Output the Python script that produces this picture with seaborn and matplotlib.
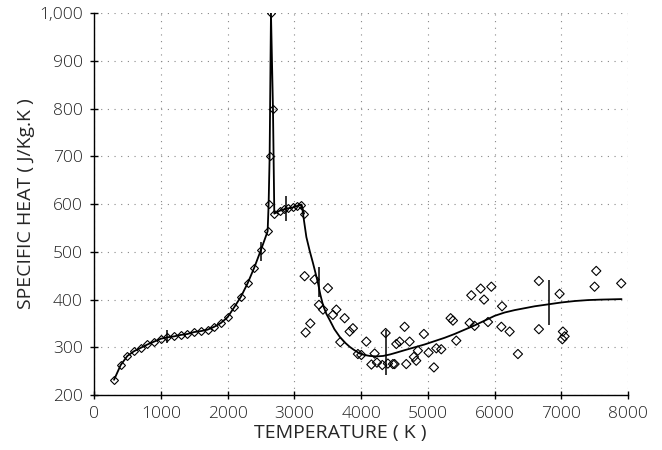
#!/usr/bin/env python3
import numpy as np
import pandas as pd
import seaborn as sns
import matplotlib.pyplot as plt
from matplotlib.ticker import FuncFormatter

# measured points, joined by a line (solid + liquid up to ~3100 K)
temp_meas = [300, 400, 500, 600, 700, 800, 900, 1000, 1100, 1200, 1300, 1400,
             1500, 1600, 1700, 1800, 1900, 2000, 2100, 2200, 2300, 2400, 2500,
             2600, 2615, 2630, 2650, 2680, 2700, 2780, 2845, 2905, 2980, 3045,
             3105, 3145]
cp_meas = [232, 263, 282, 292, 299, 306, 312, 318, 321, 323, 326, 328,
           332, 334, 337, 343, 351, 363, 384, 406, 434, 467, 504,
           543, 601, 700, 1000, 800, 580, 586, 589, 591, 593, 596,
           599, 580]

# scattered points above 3100 K
temp_scat = [3154, 3304, 3503, 3369, 3429, 3629, 3578, 3239, 3169, 3753, 3877,
             3828, 3688, 4078, 3952, 4003, 4202, 4367, 4154, 4237, 4317, 4401,
             4476, 4527, 4576, 4651, 4726, 4940, 4501, 4676, 4790, 4825, 4850,
             5010, 5090, 5126, 5200, 5425, 5340, 5375, 5625, 5700, 5900, 5650,
             5790, 5950, 5840, 6110, 6100, 6224, 6348, 6662, 6972, 6662, 7022,
             7013, 7047, 7521, 7496, 7895]
cp_scat = [449, 442, 424, 389, 379, 379, 368, 350, 331, 361, 340,
           333, 311, 312, 286, 284, 287, 330, 264, 268, 263, 266,
           265, 307, 312, 343, 312, 328, 265, 265, 280, 272, 293,
           289, 258, 298, 296, 314, 361, 356, 351, 345, 353, 409,
           423, 427, 400, 386, 343, 333, 286, 439, 412, 338, 333,
           317, 323, 460, 427, 434]

# smooth fitted curve
temp_fit = [3105, 3125, 3150, 3180, 3230, 3280, 3320, 3355, 3390, 3430, 3480,
            3530, 3600, 3680, 3750, 3830, 3900, 3980, 4050, 4130, 4230, 4330,
            4430, 4530, 4650, 4800, 4950, 5100, 5250, 5400, 5550, 5700, 5850,
            6000, 6150, 6300, 6450, 6600, 6800, 7000, 7200, 7400, 7600, 7900]
cp_fit = [598, 585, 560, 531, 502, 476, 454, 434, 410, 388, 370,
          357, 338, 322, 311, 301, 294, 287, 284, 282, 281, 282,
          285, 289, 294, 300, 306, 313, 320, 328, 337, 346, 356,
          366, 373, 378, 382, 386, 390, 394, 397, 399, 400, 401]

# vertical uncertainty bars
temp_err = [1100, 2500, 2880, 3370, 4380, 6810]
cp_err = [323, 500, 590, 437, 290, 394]
err_half = [13, 20, 26, 32, 47, 47]

sns.set_style('white')
plt.rcParams['font.family'] = ['Open Sans', 'DejaVu Sans']

fig = plt.figure(figsize=(6.62, 4.5), dpi=100)
ax = fig.add_axes([0.142, 0.122, 0.807, 0.849])

meas = pd.DataFrame({'T': temp_meas, 'cp': cp_meas})
scat = pd.DataFrame({'T': temp_scat, 'cp': cp_scat})
fit = pd.DataFrame({'T': temp_fit, 'cp': cp_fit})

sns.lineplot(data=meas, x='T', y='cp', sort=False, ax=ax, color='black',
             linewidth=1.3, marker='D', markersize=4.5, markerfacecolor='none',
             markeredgecolor='black', markeredgewidth=0.8)
sns.lineplot(data=fit, x='T', y='cp', sort=False, ax=ax, color='black',
             linewidth=1.3)
sns.scatterplot(data=scat, x='T', y='cp', ax=ax, marker='D', s=22,
                facecolor='none', edgecolor='black', linewidth=0.8)
ax.vlines(temp_err, np.array(cp_err) - np.array(err_half),
          np.array(cp_err) + np.array(err_half), color='black', linewidth=1.1)

ax.set_xlim(0, 8000)
ax.set_ylim(200, 1000)
ax.set_xticks(range(0, 8001, 1000))
ax.set_yticks(range(200, 1001, 100))
ax.yaxis.set_major_formatter(FuncFormatter(lambda v, p: '{:,.0f}'.format(v)))
ax.grid(True, linestyle=(0, (1, 5)), color='#888888', linewidth=0.8)
ax.set_axisbelow(True)

for s in ['top', 'right']:
    ax.spines[s].set_visible(False)
for s in ['left', 'bottom']:
    ax.spines[s].set_color('black')
    ax.spines[s].set_linewidth(1.0)

ax.tick_params(direction='inout', length=6, width=1, colors='black',
               labelsize=12.5, left=True, bottom=True, pad=5)
for lab in ax.get_xticklabels() + ax.get_yticklabels():
    lab.set_fontweight('light')
    lab.set_color('#222222')

ax.set_xlabel('TEMPERATURE ( K )', fontsize=14, labelpad=1)
ax.set_ylabel('SPECIFIC HEAT ( J/Kg.K )', fontsize=14, labelpad=3)
ax.xaxis.set_label_coords(0.46, -0.075)

plt.savefig('out.png', dpi=100)
